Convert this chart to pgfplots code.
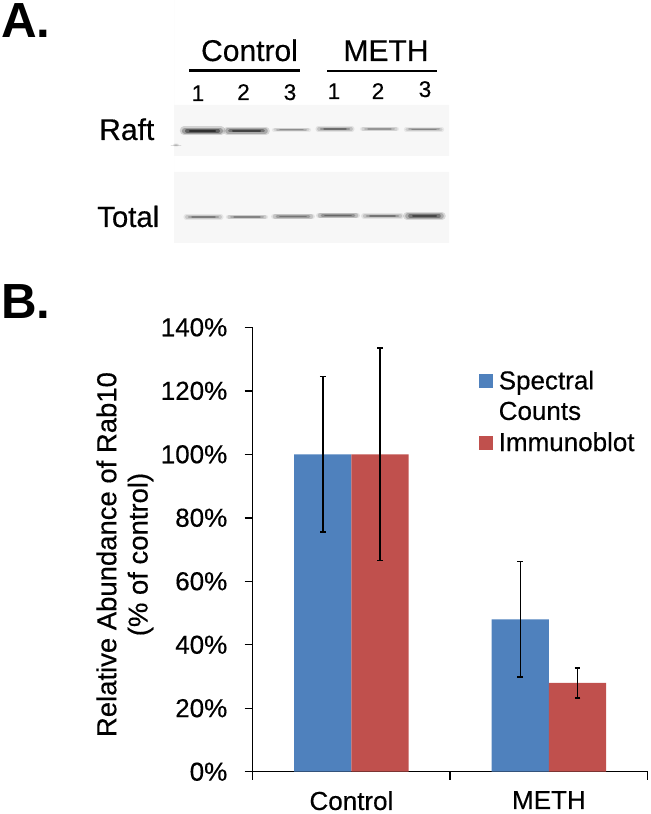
\documentclass[border=0pt]{standalone}
\usepackage{pgfplots}
\pgfplotsset{compat=1.18}
\usepackage{fontspec}
\setmainfont{Liberation Sans}[FakeBold=0.4,BoldFeatures={FakeBold=0}]
\definecolor{barblue}{HTML}{4F81BD}
\definecolor{barred}{HTML}{C0504D}
\definecolor{panel}{HTML}{F7F7F7}
% a blot band: x1, x2, y, thickness (px), darkness
\newcommand{\band}[5]{%
  \addplot[draw=black,opacity=0.12*#5,line width=1.7*#4*0.75pt,line cap=round,forget plot] coordinates {(#1+1,#3) (#2-1,#3)};
  \addplot[draw=black,opacity=0.20*#5,line width=1.25*#4*0.75pt,line cap=round,forget plot] coordinates {(#1+2,#3) (#2-2,#3)};
  \addplot[draw=black,opacity=0.30*#5,line width=0.8*#4*0.75pt,line cap=round,forget plot] coordinates {(#1+4,#3) (#2-4,#3)};
  \addplot[draw=black,opacity=0.40*#5,line width=0.45*#4*0.75pt,line cap=round,forget plot] coordinates {(#1+7,#3) (#2-7,#3)};
}
\begin{document}
\begin{tikzpicture}
% --- overlay in image pixels: panel letters and the blot of part A
\begin{axis}[
  at={(0pt,0pt)},anchor=south west,scale only axis,
  width=487.5pt,height=610.5pt,
  xmin=0,xmax=650,ymin=0,ymax=814,y dir=reverse,
  hide axis,clip=false]
\addplot[fill=panel,draw=none,forget plot] coordinates {(174,105) (449,105) (449,156) (174,156)} \closedcycle;
\addplot[fill=panel,draw=none,forget plot] coordinates {(174,172) (449,172) (449,243) (174,243)} \closedcycle;
\band{183}{222}{130.7}{5}{1.25}
\band{226}{267}{130.7}{4.5}{1.05}
\band{273}{310}{129.7}{2.5}{0.5}
\band{317}{353}{129}{3}{0.7}
\band{361}{398}{129}{2.5}{0.45}
\band{405}{443}{129.5}{2.5}{0.55}
\band{174}{178}{145}{2}{0.3}
\band{185}{222}{217}{3}{0.6}
\band{227}{267}{217}{2.5}{0.55}
\band{273}{313}{216.5}{3.5}{0.65}
\band{318}{358}{215.5}{3.5}{0.75}
\band{363}{402}{216}{3.5}{0.65}
\band{406}{443}{216}{4.5}{1.0}
\addplot[draw=black,line width=1.9pt,forget plot] coordinates {(189,70.7) (300,70.7)};
\addplot[draw=black,line width=1.9pt,forget plot] coordinates {(327,71) (437,71)};
\node[anchor=base west,inner sep=0pt,font=\fontsize{37}{37}\selectfont\bfseries] at (axis cs:1,38) {A.};
\node[anchor=base west,inner sep=0pt,font=\fontsize{37}{37}\selectfont\bfseries] at (axis cs:1,319) {B.};
\node[anchor=base,inner sep=0pt,font=\fontsize{22.5}{22.5}\selectfont] at (axis cs:249.5,61) {Control};
\node[anchor=base,inner sep=0pt,font=\fontsize{22.5}{22.5}\selectfont] at (axis cs:386,61) {METH};
\node[anchor=base west,inner sep=0pt,font=\fontsize{22.5}{22.5}\selectfont] at (axis cs:99,140) {Raft};
\node[anchor=base west,inner sep=0pt,font=\fontsize{22}{22}\selectfont] at (axis cs:97,227) {Total};
\node[anchor=base,inner sep=0pt,font=\fontsize{17}{17}\selectfont] at (axis cs:198,101) {1};
\node[anchor=base,inner sep=0pt,font=\fontsize{17}{17}\selectfont] at (axis cs:243.5,100) {2};
\node[anchor=base,inner sep=0pt,font=\fontsize{17}{17}\selectfont] at (axis cs:290,100) {3};
\node[anchor=base,inner sep=0pt,font=\fontsize{17}{17}\selectfont] at (axis cs:334,99) {1};
\node[anchor=base,inner sep=0pt,font=\fontsize{17}{17}\selectfont] at (axis cs:378,99) {2};
\node[anchor=base,inner sep=0pt,font=\fontsize{17}{17}\selectfont] at (axis cs:425,97) {3};
\end{axis}
% --- part B
\begin{axis}[
  at={(189.5pt,31.7pt)},anchor=south west,scale only axis,
  width=296.25pt,height=333.3pt,
  ybar=0pt,bar width=0.29,
  xmin=-0.5,xmax=1.5,ymin=0,ymax=140,
  axis x line*=bottom,axis y line*=left,
  axis line style={line width=1.1pt,-},
  tick style={line width=1.1pt,black},
  major tick length=6pt,
  tick align=outside,
  xtick={-0.5,0.5,1.5},xticklabels={},
  extra x ticks={0,1},extra x tick labels={Control,METH},
  extra x tick style={major tick length=0pt,xticklabel style={yshift=-11pt}},
  ytick={0,20,40,60,80,100,120,140},
  yticklabel={\pgfmathprintnumber{\tick}\%},
  /pgf/number format/assume math mode=true,
  ticklabel style={font=\fontsize{19.5}{19.5}\selectfont},
  yticklabel style={xshift=-9.5pt},
  ylabel={\begin{tabular}{c}Relative Abundance of Rab10\\(\% of control)\end{tabular}},
  ylabel style={font=\fontsize{20.6}{23.5}\selectfont,yshift=-4pt,xshift=-3.75pt},
  legend style={at={(axis cs:0.645,127.3)},anchor=north west,draw=none,fill=none,
    font=\fontsize{19.5}{19.5}\selectfont,row sep=3.75pt,inner sep=0pt},
  legend cell align=left,
  legend image code/.code={\path[#1,draw=none] (0pt,-5.25pt) rectangle (10.5pt,5.25pt);\path (12.75pt,0pt);},
  error bars/y dir=both,error bars/y explicit,
  error bars/error bar style={line width=1.1pt,black},
  error bars/error mark options={black,line width=1.1pt,mark size=2.2pt,rotate=90},
]
\addplot[fill=barblue,draw=none] coordinates {(0,100) +- (0,24.5) (1,48) +- (0,18.2)};
\addlegendentry{Spectral}
\addlegendimage{empty legend}
\addlegendentry{Counts}
\addplot[fill=barred,draw=none] coordinates {(0,100) +- (0,33.5) (1,28) +- (0,4.75)};
\addlegendentry{Immunoblot}
\end{axis}
\pgfresetboundingbox
\path (0pt,0pt) rectangle (487.5pt,610.5pt);
\end{tikzpicture}
\end{document}
